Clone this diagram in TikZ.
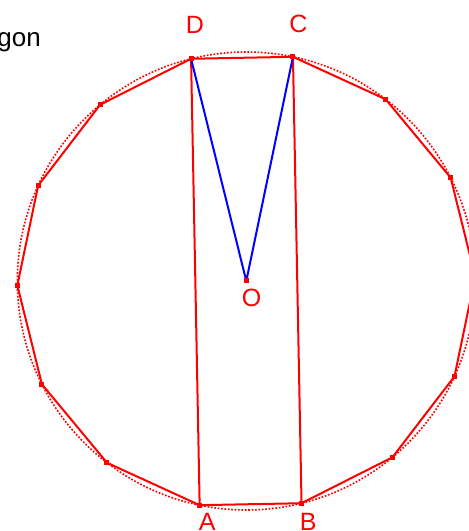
\documentclass[tikz,border=0pt]{standalone}
\usepackage{fontspec}
\setmainfont{Liberation Sans}
\begin{document}
\begin{tikzpicture}[x=1pt,y=1pt,
  edge/.style={red, line width=2pt, line join=round},
  spoke/.style={blue, line width=2pt, line join=round},
  ring/.style={red, line width=1.6pt, dash pattern=on 1.7pt off 1.7pt},
  vmark/.style={fill=red, rectangle, minimum size=5pt, inner sep=0pt},
  lbl/.style={text=red, font=\fontsize{25}{25}\selectfont, inner sep=0pt}]
\useasboundingbox (0,0) rectangle (469,531);
\coordinate (O) at (246.3,250);
\draw[ring] (O) circle (229);
\foreach \k in {0,...,13} {
  \path (O) ++ ({1.1+\k*360/14}:229) coordinate (v\k);
}
\draw[edge] (v0) \foreach \k in {1,...,13} {-- (v\k)} -- cycle;
\draw[edge] (v4) -- (v10);
\draw[edge] (v3) -- (v11);
\draw[spoke] (v4) -- (O) -- (v3);
\foreach \k in {0,...,13} {
  \node[vmark] (m\k) at (v\k) {};
}
\node[vmark] (mO) at (O) {};
\node[lbl] (lD) at (195,506) {D};
\node[lbl] (lC) at (298.3,507) {C};
\node[lbl] (lO) at (251.7,232.7) {O};
\node[lbl] (lA) at (207.3,9) {A};
\node[lbl] (lB) at (308.3,9.5) {B};
\node[lbl, text=black, anchor=base east, font=\fontsize{26}{26}\selectfont] (title) at (41,484) {gon};
\end{tikzpicture}
\end{document}
